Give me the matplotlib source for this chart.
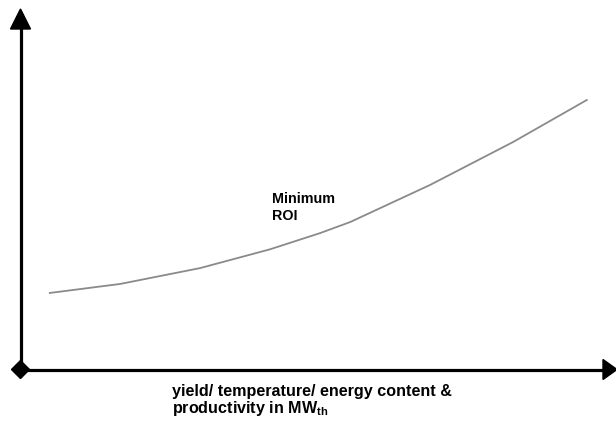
import matplotlib
matplotlib.use("Agg")
import matplotlib.pyplot as plt
from matplotlib.patches import Polygon

plt.rcParams['font.family'] = ['Liberation Sans', 'DejaVu Sans']
plt.rcParams['mathtext.fontset'] = 'custom'
plt.rcParams['mathtext.rm'] = 'Liberation Sans'
plt.rcParams['mathtext.bf'] = 'Liberation Sans:bold'

# Curve data (arbitrary units)
curve_x = [5.0, 16.8, 30.2, 41.9, 50.3, 55.4, 68.8, 82.7, 95.1]
curve_y = [21.4, 23.9, 28.3, 33.5, 38.0, 41.1, 51.4, 63.3, 75.0]
curve_label = ["Minimum", "ROI"]
x_label = ["yield/ temperature/ energy content &", "productivity in MW$_{\\mathbf{th}}$"]

W, H = 616, 421
fig = plt.figure(figsize=(W / 100, H / 100), dpi=100)

# pixel overlay for axes decorations
deco = fig.add_axes([0, 0, 1, 1])
deco.set_xlim(0, W)
deco.set_ylim(H, 0)
deco.axis('off')

x0, y0 = 20.5, 369.5
deco.plot([x0, x0], [y0, 26], color='black', lw=2.3, solid_capstyle='butt')
deco.plot([x0, 606], [y0, y0], color='black', lw=2.3, solid_capstyle='butt')
deco.add_patch(Polygon([[x0, 9], [x0 - 10, 29], [x0 + 10, 29]], closed=True, color='black'))
deco.add_patch(Polygon([[617, y0], [603, y0 - 10], [603, y0 + 10]], closed=True, color='black'))
deco.add_patch(Polygon([[x0, y0 - 9], [x0 + 9, y0], [x0, y0 + 9], [x0 - 9, y0]], closed=True, color='black'))

for i, s in enumerate(curve_label):
    deco.text(272, 203 + 17 * i, s, fontsize=10.3, fontweight='bold', ha='left', va='baseline')
for i, s in enumerate(x_label):
    deco.text(172, 396 + 17 * i, s, fontsize=11.6, fontweight='bold', ha='left', va='baseline')

# data axes
ax = fig.add_axes([20 / W, (H - 370) / H, 596 / W, 360 / H])
ax.set_xlim(0, 100)
ax.set_ylim(0, 100)
ax.axis('off')
ax.patch.set_alpha(0)
ax.plot(curve_x, curve_y, color='#8a8a8a', lw=1.3)

fig.savefig("out.png", dpi=100)
